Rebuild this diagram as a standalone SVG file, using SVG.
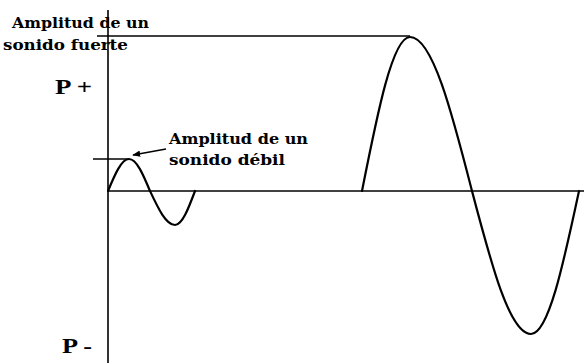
<svg xmlns="http://www.w3.org/2000/svg" width="584" height="363" viewBox="0 0 584 363">
<style>
.ax{stroke:#000;stroke-width:1.6;fill:none}
.wv{stroke:#000;stroke-width:2.2;fill:none;stroke-linecap:round}
.lb{font-family:"DejaVu Serif","Liberation Serif",serif;font-weight:bold;font-size:15px;fill:#000}
.pl{font-family:"Liberation Serif","DejaVu Serif",serif;font-weight:bold;font-size:22px;fill:#000}
</style>
<defs>
<marker id="ah" viewBox="0 0 10 10" refX="9" refY="5" markerWidth="8" markerHeight="8" orient="auto" markerUnits="userSpaceOnUse">
<path d="M0,1 L10,5 L0,9 Z" fill="#000"/>
</marker>
</defs>
<rect width="584" height="363" fill="#fff"/>
<g id="connectors">
<line class="ax" x1="108" y1="10" x2="108" y2="363"/>
<line class="ax" x1="108" y1="191" x2="584" y2="191"/>
<line class="ax" x1="97" y1="36" x2="410" y2="36"/>
<line class="ax" x1="93" y1="159" x2="129" y2="159"/>
<line class="ax" x1="166" y1="149" x2="133" y2="155" marker-end="url(#ah)"/>
</g>
<g id="small-wave">
<path class="wv" d="M108,191 C114.8,174.6 121.4,159 129,159 C136.6,159 143.2,174.6 150,191 C158.2,208.4 166,225 175,225 C182.2,225 188.5,208.4 195,191"/>
</g>
<g id="large-wave">
<path class="wv" d="M362,191 C377.6,112 392.6,37 410,37 C432.4,37 451.8,112 472,191 C491.2,264 509.6,334 531,334 C548.4,334 563.4,264 579,191"/>
</g>
<g id="label-strong">
<text class="lb" x="12" y="28" textLength="137" lengthAdjust="spacingAndGlyphs">Amplitud de un</text>
<text class="lb" x="3" y="50" textLength="125" lengthAdjust="spacingAndGlyphs">sonido fuerte</text>
</g>
<g id="label-weak">
<text class="lb" x="169" y="144" textLength="139" lengthAdjust="spacingAndGlyphs">Amplitud de un</text>
<text class="lb" x="169" y="165" textLength="116" lengthAdjust="spacingAndGlyphs">sonido débil</text>
</g>
<g id="label-pplus">
<text class="pl" x="55" y="94" textLength="37" lengthAdjust="spacingAndGlyphs">P +</text>
</g>
<g id="label-pminus">
<text class="pl" x="62" y="353" textLength="30" lengthAdjust="spacingAndGlyphs">P -</text>
</g>
</svg>
